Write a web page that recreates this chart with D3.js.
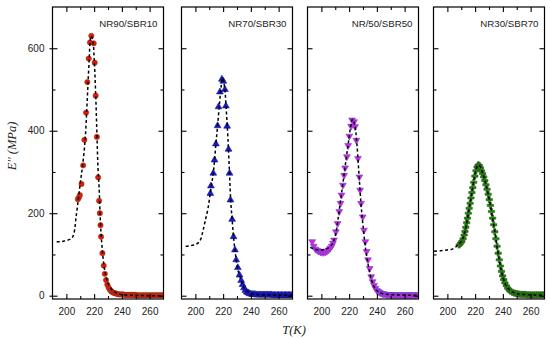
<!DOCTYPE html>
<html>
<head>
<meta charset="utf-8">
<script src="https://cdn.jsdelivr.net/npm/d3@7"></script>
<style>
  body { margin: 0; background: #fff; }
  svg { display: block; }
</style>
</head>
<body>
<svg id="chart" width="550" height="339"></svg>
<script>
  // panel titles
  var panelNames = ["NR90/SBR10", "NR70/SBR30", "NR/50/SBR50", "NR30/SBR70"];
  var xTicks = [200, 220, 240, 260];
  var xMinorTicks = [210, 230, 250];
  var yTicks = [0, 200, 400, 600];
  var yMinorTicks = [100, 300, 500];

  // measured points [T (K), E'' (MPa)]
  var nr90Points = [[208.3,234],[209.0,238],[209.7,244],[210.9,271],[212.1,316],[213.0,378],[214.2,444],[215.1,518],[216.1,575],[217.0,614],[218.0,630],[219.7,612],[220.4,565],[221.1,485],[222.0,385],[222.9,287],[223.6,230],[224.1,200],[224.6,171],[225.0,143],[226.0,103],[226.9,73],[227.7,53],[228.6,38],[229.5,27],[230.4,20],[231.3,15],[232.2,11],[233.1,9],[234,7],[235,6],[236,5],[237,4],[238,3],[239,3],[240,3],[241,3],[242,2],[243,2],[244,2],[245,2],[246,2],[247,2],[248,2],[249,2],[250,2],[251,1],[252,1],[253,1],[254,1],[255,1],[256,1],[257,1],[258,1],[259,1],[260,1],[261,1],[262,1],[263,1],[264,1],[265,1],[266,1],[267,1],[268,1],[269,1],[270,1]];
  var nr70Points = [[210.8,248],[211.2,266],[212.9,297],[213.8,329],[214.8,368],[216.0,412],[216.7,458],[217.7,494],[219.1,525],[220.1,520],[221.3,500],[222.0,460],[222.9,411],[223.9,355],[224.6,297],[225.3,232],[226.5,185],[227.5,143],[228.5,111],[229.4,87],[230.6,68],[231.8,50],[233,37],[234,27],[235,19],[236,13],[237,9],[238,7],[239,5],[240,4],[241,3],[242,3],[243,3],[244,2],[245,2],[246,2],[247,2],[248,2],[249,2],[250,2],[251,2],[252,2],[253,2],[254,2],[255,2],[256,1],[257,1],[258,1],[259,1],[260,1],[261,1],[262,1],[263,1],[264,1],[265,1],[266,1],[267,1],[268,1],[269,1],[270,1]];
  var nr50Points = [[193.4,131],[194.5,120],[195.7,113],[197,110],[198.1,108],[199.3,106],[200.5,105],[201.7,105],[202.9,106],[204,108],[205.2,111],[206.3,115],[207.4,120],[208.3,127],[209.1,135],[210.5,155],[211.7,175],[212.9,204],[213.8,224],[214.5,244],[215.5,268],[216.4,292],[217.1,310],[218.4,337],[219.3,364],[220.2,387],[221.4,411],[222.1,426],[223.6,422],[224.3,410],[225.2,377],[226.4,333],[227.4,288],[227.9,256],[228.6,224],[229.8,191],[230.7,159],[231.7,131],[232.6,107],[233.6,87],[234.8,66],[235.9,46],[237,34],[238,25],[239,18],[240,13],[241,10],[242,8],[243,6],[244,5],[245,4],[246,4],[247,3],[248,3],[249,3],[250,3],[251,3],[252,2],[253,2],[254,2],[255,2],[256,2],[257,2],[258,2],[259,2],[260,2],[261,2],[262,2],[263,2],[264,2],[265,2],[266,2],[267,2],[268,2],[269,2],[270,2]];
  var nr30Points = [[208.5,123],[209.5,127],[210.4,131],[211.3,138],[212.1,147],[212.7,156],[213.3,166],[213.9,177],[214.5,188],[215.1,200],[215.7,212],[216.4,224],[217.0,237],[217.7,250],[218.3,262],[219.0,275],[219.8,290],[220.6,303],[221.4,312],[222.2,317],[223.0,316],[223.8,310],[224.6,303],[225.4,296],[226.2,288],[227.0,279],[227.8,269],[228.6,258],[229.4,246],[230.2,233],[231.0,219],[231.8,204],[232.6,188],[233.4,172],[234.2,155],[235.0,138],[235.8,120],[236.6,103],[237.4,87],[238.2,72],[239.0,59],[239.8,48],[240.6,39],[241.5,31],[242.5,24],[243.5,18],[244.5,14],[245.5,11],[247,8],[248.5,6],[250,5],[251.5,4],[253,3],[254.5,3],[256,3],[257.5,2],[259,2],[260.5,2],[262,2],[263.5,2],[265,2],[266.5,2],[268,2],[269.5,2]];

  // fitted curves (dashed)
  var nr90Fit = [[193,131],[196,131],[199,133],[202,136],[204,140],[205.5,152],[207,191],[208.5,230],[210,273],[211.6,313],[213.5,377],[214.7,450],[215.6,515],[216.5,575],[217.2,620],[218,630],[219.2,616],[220.1,571],[221.1,490],[222,394],[222.8,309],[223.6,262],[224.2,205],[225,150],[225.8,115],[226.6,87],[227.7,60],[228.9,42],[230.5,26],[233.6,12],[237,5],[240.7,2],[250,1],[260,0],[270,0]];
  var nr70Fit = [[193,120],[196,121],[199,123],[202,128],[204,138],[205.5,158],[207,180],[209,210],[211,255],[213,300],[214.8,368],[216,412],[217.5,470],[218.7,510],[219.6,528],[220.5,518],[221.5,490],[222.5,438],[223.5,380],[224.6,297],[225.5,228],[226.5,185],[227.5,143],[228.5,111],[229.5,86],[231,58],[233,37],[235,20],[238,9],[242,4],[250,2],[260,1],[270,1]];
  var nr50Fit = [[192,117],[194,114],[196,112],[198,111],[200,111],[202,112],[204,114],[206,118],[208,126],[210,145],[212,185],[214,235],[216,285],[218,335],[219.5,372],[221,408],[222.5,428],[224,415],[225.5,372],[227,300],[228.5,225],[230,170],[232,110],[234,70],[236,40],[238,22],[240,12],[243,6],[248,3],[255,2],[262,1],[270,1]];
  var nr30Fit = [[190.4,108],[195,109],[200,111],[203.6,113],[206,118],[208,124],[210,131],[212,147],[213.5,168],[215,198],[216.5,226],[218,258],[219.5,288],[221,310],[222.5,317],[224,311],[225.5,296],[227,280],[228.5,260],[230,236],[231.5,210],[233,180],[234.5,148],[236,114],[237.5,85],[239,59],[240.5,40],[242,27],[244,17],[247,9],[250,5],[255,3],[262,2],[270,1]];

  (function() {
    'use strict';

    var panels = [
      { name: panelNames[0], pts: nr90Points, fit: nr90Fit, shape: d3.symbolCircle, size: 22, fill: "#e8140e", stroke: "#8a3a12" },
      { name: panelNames[1], pts: nr70Points, fit: nr70Fit, shape: d3.symbolTriangle, size: 20, fill: "#1818d8", stroke: "#141480" },
      { name: panelNames[2], pts: nr50Points, fit: nr50Fit, shape: d3.symbolTriangle, size: 20, fill: "#d424e4", stroke: "#6a40d0", flip: true },
      { name: panelNames[3], pts: nr30Points, fit: nr30Fit, shape: d3.symbolCross, size: 22, fill: "#1f8a12", stroke: "#2c5412" }
    ];

    var svg = d3.select("#chart");
    var lefts = [52.5, 181.5, 307.5, 433.5]
      , pw = 111
      , plotTop = 7
      , plotBottom = 299;

    var y = d3.scaleLinear().domain([-8, 700]).range([plotBottom, plotTop]);

    panels.forEach(function(p, i) {
      var x = d3.scaleLinear().domain([190, 270]).range([0, pw]);
      var g = svg.append("g").attr("transform", "translate(" + lefts[i] + ",0)");

      g.append("clipPath").attr("id", "clip" + i)
        .append("rect").attr("x", 0).attr("y", plotTop).attr("width", pw).attr("height", plotBottom - plotTop);

      var plot = g.append("g").attr("clip-path", "url(#clip" + i + ")");

      // markers
      plot.selectAll("path.pt")
        .data(p.pts)
        .enter().append("path")
        .attr("class", "pt")
        .attr("d", d3.symbol().type(p.shape).size(p.size))
        .attr("transform", function(d) {
          return "translate(" + x(d[0]) + "," + y(d[1]) + ")" + (p.flip ? " rotate(180)" : "");
        })
        .attr("fill", p.fill)
        .attr("stroke", p.stroke)
        .attr("stroke-width", 0.6);

      // fit line
      var line = d3.line()
        .x(function(d) { return x(d[0]); })
        .y(function(d) { return y(d[1]); })
        .curve(d3.curveCatmullRom);
      plot.append("path")
        .datum(p.fit)
        .attr("d", line)
        .attr("fill", "none")
        .attr("stroke", "#000")
        .attr("stroke-width", 1.5)
        .attr("stroke-dasharray", "3,2.5");

      // axes, ticks pointing inwards
      g.append("g").attr("transform", "translate(0," + plotBottom + ")")
        .call(d3.axisBottom(x).tickValues(xTicks).tickSize(-5).tickPadding(9));
      g.append("g").attr("transform", "translate(0," + plotBottom + ")")
        .call(d3.axisBottom(x).tickValues(xMinorTicks).tickSize(-3).tickFormat(""));
      g.append("g").attr("transform", "translate(0," + plotTop + ")")
        .call(d3.axisTop(x).tickValues(xTicks).tickSize(-5).tickFormat(""));
      g.append("g").attr("transform", "translate(0," + plotTop + ")")
        .call(d3.axisTop(x).tickValues(xMinorTicks).tickSize(-3).tickFormat(""));

      g.append("g")
        .call(d3.axisLeft(y).tickValues(yTicks).tickSize(-5).tickPadding(8)
          .tickFormat(i === 0 ? d3.format("d") : ""));
      g.append("g").call(d3.axisLeft(y).tickValues(yMinorTicks).tickSize(-3).tickFormat(""));
      g.append("g").attr("transform", "translate(" + pw + ",0)")
        .call(d3.axisRight(y).tickValues(yTicks).tickSize(-5).tickFormat(""));
      g.append("g").attr("transform", "translate(" + pw + ",0)")
        .call(d3.axisRight(y).tickValues(yMinorTicks).tickSize(-3).tickFormat(""));

      if (i === 0) {
        // small outer stubs on the first panel
        g.append("g").call(d3.axisLeft(y).tickValues(yTicks).tickSize(3).tickFormat(""));
      }

      g.selectAll(".domain").remove();
      g.selectAll(".tick line").attr("stroke", "#000").attr("stroke-width", 1.1);
      g.selectAll(".tick text")
        .attr("fill", "#222")
        .style("font-family", "'Liberation Sans', Arial, sans-serif")
        .style("font-size", "10px");

      // frame
      g.append("rect")
        .attr("x", 0).attr("y", plotTop)
        .attr("width", pw).attr("height", plotBottom - plotTop)
        .attr("fill", "none")
        .attr("stroke", "#000")
        .attr("stroke-width", 1.2);

      g.append("text")
        .attr("x", pw - 6).attr("y", 27)
        .attr("text-anchor", "end")
        .style("font-family", "'Liberation Sans', Arial, sans-serif")
        .style("font-size", "9.7px")
        .attr("fill", "#222")
        .text(p.name);
    });

    // axis titles
    svg.append("text")
      .attr("transform", "translate(16,146) rotate(-90)")
      .attr("text-anchor", "middle")
      .style("font-family", "'Liberation Serif', 'Times New Roman', serif")
      .style("font-style", "italic")
      .style("font-size", "12.5px")
      .attr("fill", "#222")
      .text("E'' (MPa)");

    svg.append("text")
      .attr("x", 294).attr("y", 334)
      .attr("text-anchor", "middle")
      .style("font-family", "'Liberation Serif', 'Times New Roman', serif")
      .style("font-style", "italic")
      .style("font-size", "12.5px")
      .attr("fill", "#222")
      .text("T(K)");
  })();
</script>
</body>
</html>
